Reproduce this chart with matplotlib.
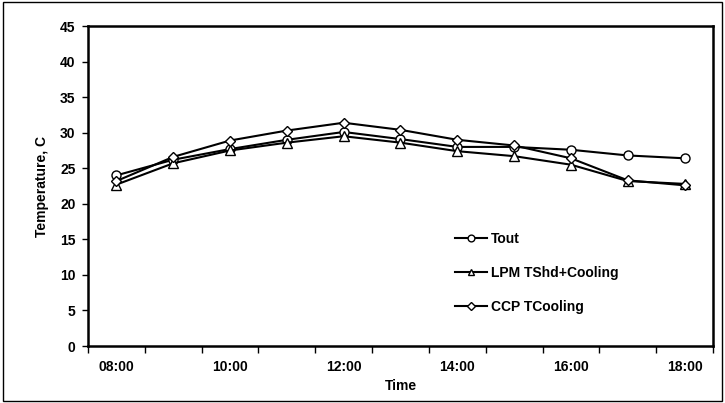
import matplotlib
matplotlib.use("Agg")
import matplotlib.pyplot as plt
import numpy as np
from matplotlib.patches import Rectangle

plt.rcParams["font.family"] = ["Liberation Sans", "DejaVu Sans"]
plt.rcParams["font.weight"] = "bold"

times = ["08:00", "09:00", "10:00", "11:00", "12:00", "13:00",
         "14:00", "15:00", "16:00", "17:00", "18:00"]
tout = [24.0, 26.2, 27.7, 29.0, 30.1, 29.1, 28.0, 28.0, 27.6, 26.8, 26.4]
lpm = [22.7, 25.7, 27.5, 28.6, 29.5, 28.6, 27.4, 26.7, 25.5, 23.2, 22.8]
ccp = [23.2, 26.6, 28.9, 30.3, 31.4, 30.4, 29.0, 28.2, 26.4, 23.3, 22.6]

fs = 10

fig = plt.figure(figsize=(7.25, 4.03), dpi=100)
ax = fig.add_axes([0.1214, 0.1414, 0.862, 0.794])

x = np.arange(len(times))
mk = dict(color="black", lw=1.5, markerfacecolor="white",
          markeredgecolor="black", markersize=6.5, markeredgewidth=1)
ax.plot(x, tout, marker="o", label="Tout", **mk)
ax.plot(x, lpm, marker="^", label="LPM TShd+Cooling", **mk)
ax.plot(x, ccp, marker="D", label="CCP TCooling", **dict(mk, markersize=5.5))

ax.set_xlim(-0.5, len(times) - 0.5)
ax.set_ylim(0, 45)
ax.set_yticks(np.arange(0, 46, 5))
ax.set_xticks(x[::2])
ax.set_xticklabels(times[::2])
ax.set_xticks(np.arange(-0.5, len(times), 1), minor=True)
ax.tick_params(axis="x", which="major", length=0, pad=10, labelsize=fs)
ax.tick_params(axis="x", which="minor", length=5, direction="out", width=1)
ax.tick_params(axis="y", length=4, direction="out", width=1, labelsize=fs, pad=5)
for s in ax.spines.values():
    s.set_linewidth(1.8)

ax.set_xlabel("Time", fontsize=fs, fontweight="bold", labelpad=4)
ax.set_ylabel("Temperature, C", fontsize=fs, fontweight="bold", labelpad=8)

leg = ax.legend(loc="upper left", bbox_to_anchor=(0.567, 0.395), frameon=False,
                fontsize=fs, handlelength=2.3, labelspacing=1.42,
                handletextpad=0.3, markerscale=0.75)

fig.patches.append(Rectangle((0.004, 0.004), 0.992, 0.992, transform=fig.transFigure,
                             fill=False, edgecolor="black", lw=1))

fig.savefig("out.png", dpi=100)
